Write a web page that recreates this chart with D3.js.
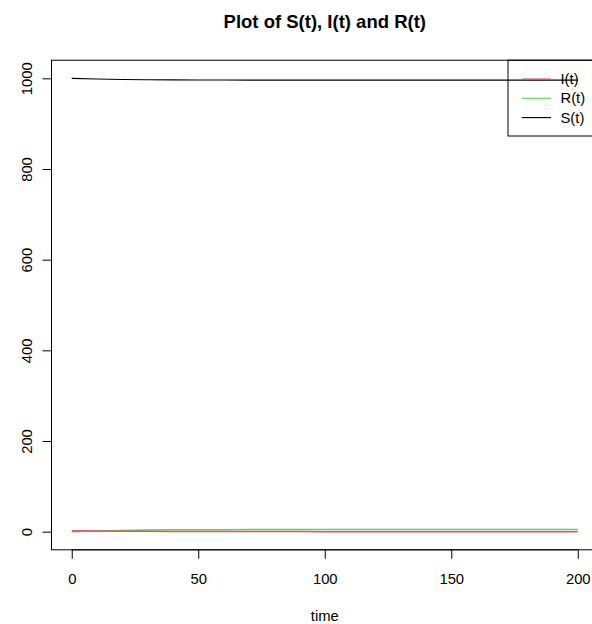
<!DOCTYPE html>
<html lang="en">
<head>
<meta charset="utf-8">
<title>Plot of S(t), I(t) and R(t)</title>
<script src="https://cdn.jsdelivr.net/npm/d3@7"></script>
<style>
  body { margin: 0; background: #fff; }
  text { font-family: "Liberation Sans", Arial, sans-serif; fill: #000; }
</style>
</head>
<body>
<script>
// values
var time = [0, 10, 20, 30, 40, 50, 60, 70, 80, 90, 100, 110, 120, 130, 140, 150, 160, 170, 180, 190, 200];
var S = [1000, 998.4, 997.5, 996.9, 996.5, 996.3, 996.2, 996.1, 996.1, 996.0, 996.0, 996.0, 996.0, 996.0, 996.0, 996.0, 996.0, 996.0, 996.0, 996.0, 996.0];
var I = [2, 1.6, 1.1, 0.8, 0.55, 0.4, 0.3, 0.2, 0.15, 0.1, 0.07, 0.05, 0.03, 0.02, 0.02, 0.01, 0.01, 0, 0, 0, 0];
var R = [0, 1.6, 2.8, 3.5, 4.0, 4.3, 4.5, 4.6, 4.65, 4.7, 4.72, 4.74, 4.75, 4.76, 4.76, 4.77, 4.77, 4.78, 4.78, 4.78, 4.78];
var xTicks = [0, 50, 100, 150, 200];
var yTicks = [0, 200, 400, 600, 800, 1000];
var legendNames = ["I(t)", "R(t)", "S(t)"];
var legendColors = ["#DF536B", "#61D04F", "#000000"];

var W = 592, H = 624;
var fs = 14.8;
var svg = d3.select("body").append("svg")
    .attr("width", W).attr("height", H);

// R-style 4% extended ranges
var x = d3.scaleLinear().domain([-8, 208]).range([51.5, 598]);
var y = d3.scaleLinear().domain([-40, 1040]).range([549.8, 60.2]);

var line = function(vals) {
  return d3.line()
    .x(function(d, i) { return x(time[i]); })
    .y(function(d) { return y(d); })(vals);
};

svg.append("path").attr("d", line(S))
   .attr("fill", "none").attr("stroke", "#000").attr("stroke-width", 1.1);
svg.append("path").attr("d", line(R))
   .attr("fill", "none").attr("stroke", "#61D04F").attr("stroke-width", 1.5);
svg.append("path").attr("d", line(I))
   .attr("fill", "none").attr("stroke", "#DF536B").attr("stroke-width", 1.5);

// box
svg.append("rect")
   .attr("x", x(-8)).attr("y", y(1040))
   .attr("width", x(208) - x(-8)).attr("height", y(-40) - y(1040))
   .attr("fill", "none").attr("stroke", "#000").attr("stroke-width", 1);

// x axis
var xAxis = d3.axisBottom(x).tickValues(xTicks).tickSize(9)
    .tickFormat(d3.format("d"));
var gx = svg.append("g").attr("transform", "translate(0," + y(-40) + ")").call(xAxis);
gx.select(".domain").attr("d", "M" + x(0) + ",0H" + x(200));
gx.selectAll("text")
  .attr("font-size", fs).attr("font-family", "Liberation Sans, Arial, sans-serif")
  .attr("y", 34.7).attr("dy", null);

// y axis
var yAxis = d3.axisLeft(y).tickValues(yTicks).tickSize(9).tickPadding(0)
    .tickFormat(d3.format("d"));
var gy = svg.append("g").attr("transform", "translate(" + x(-8) + ",0)").call(yAxis);
gy.select(".domain").attr("d", "M0," + y(0) + "V" + y(1000));
gy.selectAll("text")
  .attr("font-size", fs).attr("font-family", "Liberation Sans, Arial, sans-serif")
  .attr("x", null).attr("dy", null)
  .attr("text-anchor", "middle")
  .attr("transform", "translate(-20,0) rotate(-90)");

// title and x label
svg.append("text").attr("x", 324.8).attr("y", 28)
   .attr("text-anchor", "middle").attr("font-size", 18.5).attr("font-weight", "bold")
   .text("Plot of S(t), I(t) and R(t)");
svg.append("text").attr("x", 324.8).attr("y", 621)
   .attr("text-anchor", "middle").attr("font-size", fs)
   .text("time");

// legend (transparent, top right)
var lg = svg.append("g");
lg.append("rect").attr("x", 508).attr("y", y(1040))
  .attr("width", x(208) - 508).attr("height", 136 - y(1040))
  .attr("fill", "none").attr("stroke", "#000");
legendNames.forEach(function(n, i) {
  var cy = 79 + i * 19.3;
  lg.append("line").attr("x1", 521.7).attr("x2", 551).attr("y1", cy).attr("y2", cy)
    .attr("stroke", legendColors[i]).attr("stroke-width", 1.1);
  lg.append("text").attr("x", 560.5).attr("y", cy).attr("dy", "0.35em")
    .attr("font-size", fs).text(n);
});
</script>
</body>
</html>
